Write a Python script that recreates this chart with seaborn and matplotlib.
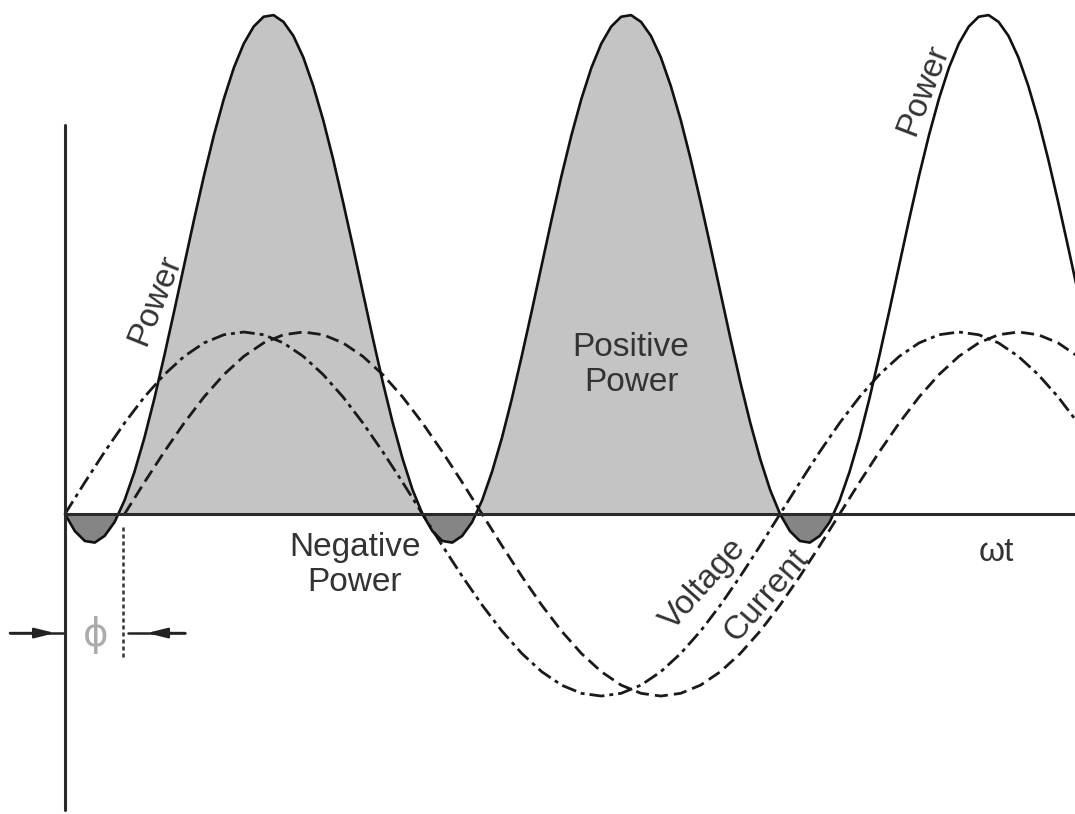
import numpy as np
import matplotlib
matplotlib.use('Agg')
import matplotlib.pyplot as plt
import seaborn as sns

sns.set_style('white')
plt.rcParams['font.family'] = ['Liberation Sans', 'DejaVu Sans']

# Data (angle wt in degrees, amplitude in units of the voltage peak) --------
volt_deg = np.arange(0, 520, 10)
volt_val = [0, .174, .342, .5, .643, .766, .866, .940, .985, 1, .985, .940, .866, .766,
            .643, .5, .342, .174, 0, -.174, -.342, -.5, -.643, -.766, -.866, -.940, -.985,
            -1, -.985, -.940, -.866, -.766, -.643, -.5, -.342, -.174, 0, .174, .342, .5,
            .643, .766, .866, .940, .985, 1, .985, .940, .866, .766, .643, .5]

curr_deg = np.arange(30, 520, 10)
curr_val = [0, .174, .342, .5, .643, .766, .866, .940, .985, 1, .985, .940, .866, .766,
            .643, .5, .342, .174, 0, -.174, -.342, -.5, -.643, -.766, -.866, -.940, -.985,
            -1, -.985, -.940, -.866, -.766, -.643, -.5, -.342, -.174, 0, .174, .342, .5,
            .643, .766, .866, .940, .985, 1, .985, .940, .866]

power_deg = np.arange(0, 515, 5)
power_val = [0, -0.094, -0.148, -0.157, -0.120, -0.044, 0.075, 0.232, 0.419, 0.634, 0.869,
             1.115, 1.367, 1.618, 1.859, 2.082, 2.281, 2.451, 2.584, 2.678, 2.732, 2.741,
             2.704, 2.627, 2.509, 2.352, 2.165, 1.950, 1.715, 1.469, 1.217, 0.966, 0.725,
             0.502, 0.303, 0.133,
             0, -0.094, -0.148, -0.157, -0.120, -0.044, 0.075, 0.232, 0.419, 0.634, 0.869,
             1.115, 1.367, 1.618, 1.859, 2.082, 2.281, 2.451, 2.584, 2.678, 2.732, 2.741,
             2.704, 2.627, 2.509, 2.352, 2.165, 1.950, 1.715, 1.469, 1.217, 0.966, 0.725,
             0.502, 0.303, 0.133,
             0, -0.094, -0.148, -0.157, -0.120, -0.044, 0.075, 0.232, 0.419, 0.634, 0.869,
             1.115, 1.367, 1.618, 1.859, 2.082, 2.281, 2.451, 2.584, 2.678, 2.732, 2.741,
             2.704, 2.627, 2.509, 2.352, 2.165, 1.950, 1.715, 1.469, 1.217]

phase_deg = 29

# Figure -------------------------------------------------------------------
fig = plt.figure(figsize=(10.75, 8.14), dpi=100)
ax = fig.add_axes([0, 0, 1, 1])
ax.set_xlim(-32.7, 508.5)
ax.set_ylim(-1.648, 2.824)
ax.axis('off')

p = np.array(power_val)
pd_ = np.array(power_deg)

# shaded lobes
ax.fill_between(pd_, p, 0, where=(p >= 0) & (pd_ <= 360), interpolate=True,
                color='#c4c4c4', lw=0, zorder=1)
ax.fill_between(pd_, p, 0, where=(p <= 0), interpolate=True,
                color='#858585', lw=0, zorder=1)

# voltage / current / power
sns.lineplot(x=volt_deg, y=volt_val, ax=ax, color='#1a1a1a', lw=2,
             linestyle=(0, (5.4, 1.8, 1.4, 1.8)), zorder=3)
sns.lineplot(x=curr_deg, y=curr_val, ax=ax, color='#1a1a1a', lw=2,
             linestyle=(0, (4.7, 2.2)), zorder=3)
sns.lineplot(x=power_deg, y=power_val, ax=ax, color='#111111', lw=1.9, zorder=4)

# axes lines
ax.plot([0, 0], [-1.626, 2.137], color='#2a2a2a', lw=2.2, zorder=5)
ax.plot([0, 510], [0, 0], color='#2a2a2a', lw=2.2, zorder=5)

# phase marker
ax.plot([phase_deg, phase_deg], [-0.07, -0.80], color='#333333', lw=1.8,
        linestyle=(0, (1.6, 1.2)), zorder=5)
arrow = dict(arrowstyle='-|>,head_length=1.2,head_width=0.3', color='#222222', lw=1.8,
             shrinkA=0, shrinkB=0)
ax.plot([-27.7, -1], [-0.654, -0.654], color='#222222', lw=1.8)
ax.plot([31.5, 60.4], [-0.654, -0.654], color='#222222', lw=1.8)
ax.annotate('', xy=(-5, -0.654), xytext=(-27.7, -0.654), arrowprops=arrow)
ax.annotate('', xy=(41.3, -0.654), xytext=(60.4, -0.654), arrowprops=arrow)
ax.text(15.6, -0.665, 'ϕ', fontsize=28, color='#ababab', ha='center', va='center',
        family=['DejaVu Sans'])

# labels
txt = dict(fontsize=24, color='#333333', ha='center', va='center')
ax.text(45.3, 1.176, 'Power', rotation=68, **txt)
ax.text(432, 2.33, 'Power', rotation=69, **txt)
ax.text(285, 0.819, 'Positive\nPower', linespacing=1.15, **txt)
ax.text(146, -0.28, 'Negative\nPower', linespacing=1.15, **txt)
ax.text(468.8, -0.209, 'ωt', **txt)
ax.text(321.5, -0.385, 'Voltage', rotation=48, **txt)
ax.text(353, -0.45, 'Current', rotation=49, **txt)

plt.savefig('out.png', dpi=100)
